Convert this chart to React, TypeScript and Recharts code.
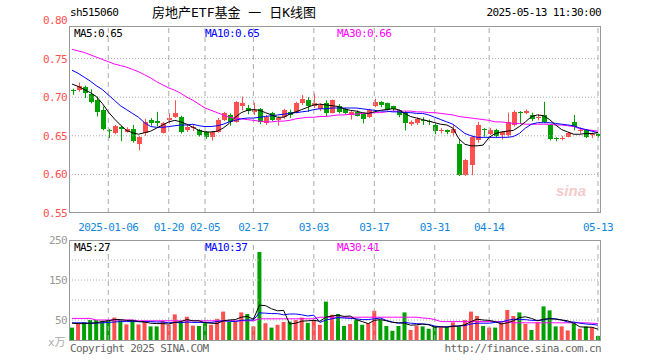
import React from 'react';
import { ComposedChart, Bar, Line, XAxis, YAxis, ReferenceLine, Cell } from 'recharts';

// trading days shown on the chart
const dates = [
  '2024-12-26', '2024-12-27', '2024-12-30', '2024-12-31', '2025-01-02', '2025-01-03',
  '2025-01-06', '2025-01-07', '2025-01-08', '2025-01-09', '2025-01-10',
  '2025-01-13', '2025-01-14', '2025-01-15', '2025-01-16', '2025-01-17',
  '2025-01-20', '2025-01-21', '2025-01-22', '2025-01-23', '2025-01-24', '2025-01-27',
  '2025-02-05', '2025-02-06', '2025-02-07',
  '2025-02-10', '2025-02-11', '2025-02-12', '2025-02-13', '2025-02-14',
  '2025-02-17', '2025-02-18', '2025-02-19', '2025-02-20', '2025-02-21',
  '2025-02-24', '2025-02-25', '2025-02-26', '2025-02-27', '2025-02-28',
  '2025-03-03', '2025-03-04', '2025-03-05', '2025-03-06', '2025-03-07',
  '2025-03-10', '2025-03-11', '2025-03-12', '2025-03-13', '2025-03-14',
  '2025-03-17', '2025-03-18', '2025-03-19', '2025-03-20', '2025-03-21',
  '2025-03-24', '2025-03-25', '2025-03-26', '2025-03-27', '2025-03-28',
  '2025-03-31', '2025-04-01', '2025-04-02', '2025-04-03',
  '2025-04-07', '2025-04-08', '2025-04-09', '2025-04-10', '2025-04-11',
  '2025-04-14', '2025-04-15', '2025-04-16', '2025-04-17', '2025-04-18',
  '2025-04-21', '2025-04-22', '2025-04-23', '2025-04-24', '2025-04-25',
  '2025-04-28', '2025-04-29', '2025-04-30',
  '2025-05-06', '2025-05-07', '2025-05-08', '2025-05-09', '2025-05-12', '2025-05-13',
];

const open = [
  0.709, 0.709, 0.713, 0.704, 0.696, 0.683, 0.657, 0.653, 0.662, 0.655, 0.659,
  0.639, 0.653, 0.671, 0.669, 0.654, 0.671, 0.674, 0.675, 0.657, 0.660, 0.658,
  0.655, 0.648, 0.655, 0.671, 0.677, 0.668, 0.689, 0.686, 0.681, 0.685, 0.666,
  0.679, 0.670, 0.674, 0.681, 0.679, 0.692, 0.697, 0.688, 0.685, 0.693, 0.680,
  0.689, 0.685, 0.677, 0.681, 0.678, 0.675, 0.688, 0.694, 0.692, 0.688, 0.683,
  0.681, 0.665, 0.666, 0.670, 0.669, 0.664, 0.656, 0.657, 0.654, 0.640, 0.599,
  0.612, 0.645, 0.659, 0.652, 0.658, 0.651, 0.651, 0.664, 0.681, 0.679, 0.677,
  0.674, 0.677, 0.664, 0.647, 0.646, 0.648, 0.668, 0.656, 0.657, 0.651, 0.652,
];
const high = [
  0.711, 0.719, 0.715, 0.710, 0.701, 0.688, 0.659, 0.664, 0.663, 0.661, 0.664,
  0.650, 0.672, 0.673, 0.681, 0.668, 0.679, 0.696, 0.676, 0.664, 0.664, 0.659,
  0.656, 0.656, 0.673, 0.681, 0.679, 0.695, 0.701, 0.690, 0.693, 0.686, 0.677,
  0.681, 0.675, 0.685, 0.684, 0.694, 0.703, 0.700, 0.705, 0.692, 0.696, 0.697,
  0.691, 0.686, 0.682, 0.683, 0.679, 0.685, 0.698, 0.695, 0.693, 0.689, 0.684,
  0.682, 0.670, 0.674, 0.674, 0.671, 0.666, 0.660, 0.658, 0.664, 0.646, 0.620,
  0.650, 0.668, 0.660, 0.660, 0.659, 0.656, 0.680, 0.683, 0.682, 0.684, 0.680,
  0.678, 0.694, 0.665, 0.648, 0.650, 0.655, 0.677, 0.661, 0.658, 0.654, 0.653,
];
const low = [
  0.703, 0.707, 0.699, 0.692, 0.675, 0.657, 0.647, 0.652, 0.643, 0.654, 0.641,
  0.631, 0.650, 0.663, 0.662, 0.653, 0.666, 0.673, 0.653, 0.655, 0.656, 0.649,
  0.646, 0.644, 0.654, 0.669, 0.663, 0.667, 0.683, 0.678, 0.677, 0.665, 0.664,
  0.669, 0.663, 0.672, 0.673, 0.679, 0.690, 0.681, 0.686, 0.682, 0.675, 0.679,
  0.679, 0.678, 0.671, 0.675, 0.666, 0.673, 0.687, 0.687, 0.683, 0.682, 0.674,
  0.657, 0.663, 0.664, 0.664, 0.664, 0.652, 0.653, 0.652, 0.649, 0.598, 0.598,
  0.599, 0.641, 0.649, 0.651, 0.648, 0.645, 0.649, 0.662, 0.666, 0.678, 0.669,
  0.670, 0.667, 0.644, 0.643, 0.644, 0.648, 0.657, 0.653, 0.647, 0.647, 0.648,
];
const close = [
  0.708, 0.715, 0.706, 0.694, 0.681, 0.659, 0.656, 0.663, 0.659, 0.659, 0.643,
  0.648, 0.668, 0.666, 0.667, 0.667, 0.673, 0.680, 0.655, 0.662, 0.661, 0.651,
  0.648, 0.655, 0.671, 0.679, 0.668, 0.694, 0.693, 0.682, 0.684, 0.668, 0.675,
  0.671, 0.673, 0.683, 0.677, 0.693, 0.698, 0.688, 0.692, 0.690, 0.679, 0.696,
  0.681, 0.680, 0.681, 0.676, 0.672, 0.684, 0.694, 0.690, 0.684, 0.685, 0.677,
  0.667, 0.668, 0.672, 0.669, 0.668, 0.656, 0.657, 0.655, 0.659, 0.599, 0.619,
  0.648, 0.664, 0.657, 0.658, 0.650, 0.655, 0.668, 0.681, 0.679, 0.682, 0.672,
  0.675, 0.668, 0.646, 0.646, 0.647, 0.653, 0.661, 0.658, 0.648, 0.652, 0.650,
];

// moving averages as drawn on the chart
const ma5 = [
  0.717, 0.714, 0.710, 0.706, 0.701, 0.692, 0.681, 0.672, 0.664, 0.657, 0.654,
  0.652, 0.654, 0.656, 0.660, 0.664, 0.668, 0.670, 0.668, 0.665, 0.661, 0.657,
  0.655, 0.655, 0.656, 0.660, 0.666, 0.674, 0.680, 0.683, 0.684, 0.683, 0.680,
  0.677, 0.674, 0.674, 0.678, 0.681, 0.684, 0.687, 0.690, 0.691, 0.690, 0.689,
  0.688, 0.685, 0.683, 0.682, 0.680, 0.679, 0.681, 0.683, 0.684, 0.685, 0.684,
  0.679, 0.675, 0.673, 0.671, 0.669, 0.667, 0.665, 0.664, 0.660, 0.646, 0.639,
  0.637, 0.637, 0.638, 0.648, 0.653, 0.655, 0.656, 0.657, 0.662, 0.668, 0.675,
  0.677, 0.676, 0.671, 0.664, 0.658, 0.655, 0.652, 0.652, 0.653, 0.653, 0.654,
];
const ma10 = [
  0.735, 0.731, 0.726, 0.721, 0.715, 0.710, 0.703, 0.696, 0.689, 0.684, 0.679,
  0.674, 0.667, 0.662, 0.661, 0.661, 0.662, 0.663, 0.664, 0.664, 0.665, 0.663,
  0.662, 0.662, 0.663, 0.665, 0.668, 0.670, 0.672, 0.673, 0.673, 0.674, 0.675,
  0.676, 0.677, 0.678, 0.679, 0.680, 0.681, 0.682, 0.684, 0.685, 0.685, 0.686,
  0.686, 0.686, 0.686, 0.686, 0.685, 0.684, 0.683, 0.682, 0.682, 0.681, 0.681,
  0.680, 0.680, 0.679, 0.679, 0.677, 0.674, 0.671, 0.668, 0.665, 0.659, 0.653,
  0.650, 0.648, 0.648, 0.648, 0.648, 0.648, 0.648, 0.649, 0.653, 0.660, 0.665,
  0.667, 0.667, 0.667, 0.666, 0.665, 0.664, 0.663, 0.660, 0.658, 0.656, 0.654,
];
const ma30 = [
  0.762, 0.760, 0.758, 0.755, 0.752, 0.749, 0.746, 0.743, 0.741, 0.739, 0.736,
  0.733, 0.729, 0.725, 0.720, 0.716, 0.712, 0.709, 0.705, 0.700, 0.696, 0.691,
  0.686, 0.683, 0.680, 0.677, 0.674, 0.673, 0.672, 0.671, 0.670, 0.669, 0.668,
  0.668, 0.669, 0.669, 0.670, 0.672, 0.673, 0.674, 0.674, 0.675, 0.675, 0.676,
  0.677, 0.677, 0.678, 0.678, 0.679, 0.679, 0.680, 0.680, 0.681, 0.682, 0.682,
  0.682, 0.682, 0.681, 0.681, 0.680, 0.680, 0.679, 0.678, 0.677, 0.675, 0.674,
  0.673, 0.672, 0.671, 0.670, 0.668, 0.668, 0.667, 0.666, 0.666, 0.665, 0.665,
  0.665, 0.665, 0.665, 0.664, 0.664, 0.663, 0.662, 0.659, 0.658, 0.657, 0.656,
];

// volume, in 万手
const volume = [
  31, 40, 44, 50, 50, 48, 50, 56, 50, 39, 48,
  39, 48, 34, 34, 48, 38, 64, 46, 58, 36, 35,
  42, 38, 53, 71, 45, 46, 69, 65, 34, 220, 42,
  31, 38, 45, 46, 50, 56, 43, 50, 38, 96, 63,
  65, 35, 40, 50, 38, 42, 73, 50, 35, 23, 35,
  69, 25, 36, 34, 28, 35, 32, 32, 44, 34, 50,
  71, 60, 35, 31, 31, 44, 75, 60, 69, 40, 25,
  44, 84, 74, 34, 34, 24, 42, 28, 34, 32, 10,
];
const volMa5 = [
  42, 41, 41, 42, 43, 46, 48, 51, 51, 49, 49,
  46, 45, 42, 41, 41, 40, 44, 46, 51, 48, 48,
  43, 42, 41, 48, 50, 51, 57, 59, 52, 87, 86,
  78, 73, 74, 40, 42, 47, 48, 49, 47, 57, 60,
  62, 59, 60, 51, 46, 41, 49, 51, 48, 44, 43,
  42, 37, 38, 40, 38, 32, 33, 32, 34, 35, 38,
  46, 52, 50, 49, 46, 40, 43, 48, 56, 58, 54,
  48, 52, 53, 52, 50, 48, 42, 33, 32, 32, 27,
];
const volMa10 = [
  43, 43, 43, 42, 42, 43, 44, 45, 46, 46, 46,
  46, 46, 46, 45, 45, 43, 44, 43, 45, 44, 44,
  44, 44, 46, 48, 47, 46, 49, 50, 50, 68, 67,
  66, 66, 63, 65, 65, 63, 60, 62, 44, 50, 53,
  56, 55, 54, 53, 51, 51, 53, 55, 49, 45, 42,
  44, 42, 41, 40, 39, 35, 33, 33, 35, 35, 36,
  40, 42, 42, 42, 44, 45, 49, 52, 51, 51, 49,
  49, 50, 54, 53, 50, 45, 45, 42, 40, 39, 37,
];
const volMa30 = [
  54, 54, 54, 54, 50, 50, 50, 50, 50, 50, 50,
  48, 48, 48, 48, 48, 48, 48, 48, 48, 48, 48,
  48, 48, 48, 48, 48, 48, 48, 48, 48, 53, 53,
  53, 53, 53, 53, 53, 53, 53, 53, 57, 57, 57,
  57, 57, 57, 57, 57, 57, 57, 57, 57, 57, 57,
  57, 57, 57, 55, 54, 51, 46, 46, 46, 46, 46,
  46, 46, 46, 46, 46, 46, 46, 43, 43, 43, 43,
  43, 43, 43, 43, 43, 43, 43, 43, 43, 42, 41,
];

const dateTicks = [
  '2025-01-06', '2025-01-20', '2025-02-05', '2025-02-17', '2025-03-03',
  '2025-03-17', '2025-03-31', '2025-04-14', '2025-05-13',
];
const priceTicks = [0.55, 0.6, 0.65, 0.7, 0.75, 0.8];
const priceGrid = [0.6, 0.65, 0.7, 0.75];
const volTicks = [50, 100, 150, 200, 250];
const volGrid = [50, 100, 150, 200];

const RED = '#FF5050';
const GREEN = '#00A000';
const MONO = '"DejaVu Sans Mono", monospace';
const CJK = '"DejaVu Sans Mono", "Noto Sans CJK SC", sans-serif';
const PRICE_TOP = 0.7925; // the frame sits a little under 0.80

const priceData = dates.map((d, i) => ({
  date: d,
  open: open[i],
  high: high[i],
  low: low[i],
  close: close[i],
  range: [low[i], high[i]],
  ma5: ma5[i],
  ma10: ma10[i],
  ma30: ma30[i],
}));

const volData = dates.map((d, i) => ({
  date: d,
  vol: volume[i],
  up: close[i] > open[i],
  vma5: volMa5[i],
  vma10: volMa10[i],
  vma30: volMa30[i],
}));

const Candle = (props: any) => {
  const { x, y, width, height, payload } = props;
  const top = Math.min(y, y + height);
  const h = Math.abs(height);
  const { open: o, close: c, high: hi, low: lo } = payload;
  const color = c > o ? RED : GREEN;
  const cx = Math.round(x + width / 2);
  const toY = (v: number) => (hi === lo ? top : top + ((hi - v) / (hi - lo)) * h);
  const bTop = Math.round(toY(Math.max(o, c)));
  const bBot = Math.round(toY(Math.min(o, c)));
  return (
    <g>
      <line x1={cx + 0.5} x2={cx + 0.5} y1={top} y2={top + h} stroke={color} strokeWidth={1} />
      <rect x={cx - 2} y={bTop} width={5} height={Math.max(1, bBot - bTop)} fill={color} />
    </g>
  );
};

const PriceTick = (props: any) => {
  const { x, y, payload } = props;
  return (
    <text x={x} y={y} dy={4} textAnchor="end" fill={RED} fontFamily={MONO} fontSize={11} letterSpacing={-0.6}>
      {Number(payload.value).toFixed(2)}
    </text>
  );
};

const VolTick = (props: any) => {
  const { x, y, payload } = props;
  return (
    <text x={x} y={y} dy={4} textAnchor="end" fill="#999" fontFamily={MONO} fontSize={11} letterSpacing={-0.6}>
      {payload.value}
    </text>
  );
};

const DateTick = (props: any) => {
  const { x, y, payload } = props;
  const v: string = payload.value;
  const label = v === '2025-01-06' ? v : v.slice(5);
  return (
    <text x={x} y={y} dy={10} textAnchor="middle" fill="#1188DD" fontFamily={MONO} fontSize={11} letterSpacing={-0.6}>
      {label}
    </text>
  );
};

const txt = (extra: React.CSSProperties): React.CSSProperties => ({
  position: 'absolute',
  fontFamily: MONO,
  fontSize: 11,
  letterSpacing: -0.6,
  lineHeight: '12px',
  whiteSpace: 'nowrap',
  ...extra,
});

const App: React.FC = () => {
  return (
    <div style={{ position: 'absolute', left: 0, top: 0, width: 660, height: 360, background: '#fff', overflow: 'hidden' }}>
      <div style={txt({ left: 70, top: 7, color: '#000' })}>sh515060</div>
      <div style={txt({ left: 152, top: 5, fontFamily: CJK, fontSize: 13, letterSpacing: 0, lineHeight: '16px', color: '#000' })}>
        房地产ETF基金 一 日K线图
      </div>
      <div style={txt({ right: 59, top: 7, color: '#000' })}>2025-05-13 11:30:00</div>

      <div style={{ position: 'absolute', left: 0, top: 0 }}>
        <ComposedChart width={660} height={240} data={priceData} margin={{ top: 20, right: 59, left: 0, bottom: 0 }}>
          <XAxis dataKey="date" ticks={dateTicks} interval={0} height={27} axisLine={false} tickLine={false} tick={<DateTick />} />
          <YAxis domain={[0.55, 0.8]} ticks={priceTicks} width={69} axisLine={false} tickLine={false} tickSize={0} tickMargin={2} tick={<PriceTick />} allowDataOverflow />
          {priceGrid.map((v) => (
            <ReferenceLine key={v} y={v} stroke="#aaa" strokeDasharray="1 2" />
          ))}
          {dateTicks.map((d) => (
            <ReferenceLine key={d} segment={[{ x: d, y: 0.55 }, { x: d, y: PRICE_TOP }]} stroke="#aaa" strokeDasharray="5 4" />
          ))}
          <Bar dataKey="range" barSize={5} shape={<Candle />} isAnimationActive={false} />
          <Line type="linear" dataKey="ma30" stroke="#FF00FF" strokeWidth={1} dot={false} isAnimationActive={false} />
          <Line type="linear" dataKey="ma10" stroke="#0000FF" strokeWidth={1} dot={false} isAnimationActive={false} />
          <Line type="linear" dataKey="ma5" stroke="#000" strokeWidth={1} dot={false} isAnimationActive={false} />
        </ComposedChart>
      </div>
      <div style={{ position: 'absolute', left: 69, top: 26, width: 532, height: 187, border: '1px solid #999', boxSizing: 'border-box' }} />
      <div style={txt({ left: 74, top: 28, color: '#000' })}>MA5:0.65</div>
      <div style={txt({ left: 205, top: 28, color: '#0000FF' })}>MA10:0.65</div>
      <div style={txt({ left: 337, top: 28, color: '#FF00FF' })}>MA30:0.66</div>
      <div style={{ position: 'absolute', left: 556, top: 182, fontFamily: 'Liberation Sans, sans-serif', fontStyle: 'italic', fontWeight: 'bold', fontSize: 15, color: '#F6CACA' }}>sina</div>

      <div style={{ position: 'absolute', left: 0, top: 230 }}>
        <ComposedChart width={660} height={120} data={volData} margin={{ top: 10, right: 59, left: 0, bottom: 10 }}>
          <XAxis dataKey="date" height={0} axisLine={false} tickLine={false} tick={false} />
          <YAxis domain={[0, 250]} ticks={volTicks} width={69} axisLine={false} tickLine={false} tickSize={0} tickMargin={2} tick={<VolTick />} allowDataOverflow />
          {volGrid.map((v) => (
            <ReferenceLine key={v} y={v} stroke="#aaa" strokeDasharray="1 2" />
          ))}
          {dateTicks.map((d) => (
            <ReferenceLine key={d} x={d} stroke="#aaa" strokeDasharray="5 4" />
          ))}
          <Bar dataKey="vol" barSize={4} isAnimationActive={false}>
            {volData.map((r) => (
              <Cell key={r.date} fill={r.up ? RED : GREEN} />
            ))}
          </Bar>
          <Line type="linear" dataKey="vma30" stroke="#FF00FF" strokeWidth={1} dot={false} isAnimationActive={false} />
          <Line type="linear" dataKey="vma10" stroke="#0000FF" strokeWidth={1} dot={false} isAnimationActive={false} />
          <Line type="linear" dataKey="vma5" stroke="#000" strokeWidth={1} dot={false} isAnimationActive={false} />
        </ComposedChart>
      </div>
      <div style={{ position: 'absolute', left: 69, top: 240, width: 532, height: 101, border: '1px solid #999', boxSizing: 'border-box' }} />
      <div style={txt({ left: 74, top: 242, color: '#000' })}>MA5:27</div>
      <div style={txt({ left: 205, top: 242, color: '#0000FF' })}>MA10:37</div>
      <div style={txt({ left: 337, top: 242, color: '#FF00FF' })}>MA30:41</div>
      <div style={txt({ left: 48, top: 337, color: '#aaa', fontFamily: CJK, letterSpacing: 0 })}>x万</div>
      <div style={txt({ left: 70, top: 343, color: '#666' })}>Copyright 2025 SINA.COM</div>
      <div style={txt({ right: 59, top: 343, color: '#666' })}>http://finance.sina.com.cn</div>
    </div>
  );
};

export default App;
